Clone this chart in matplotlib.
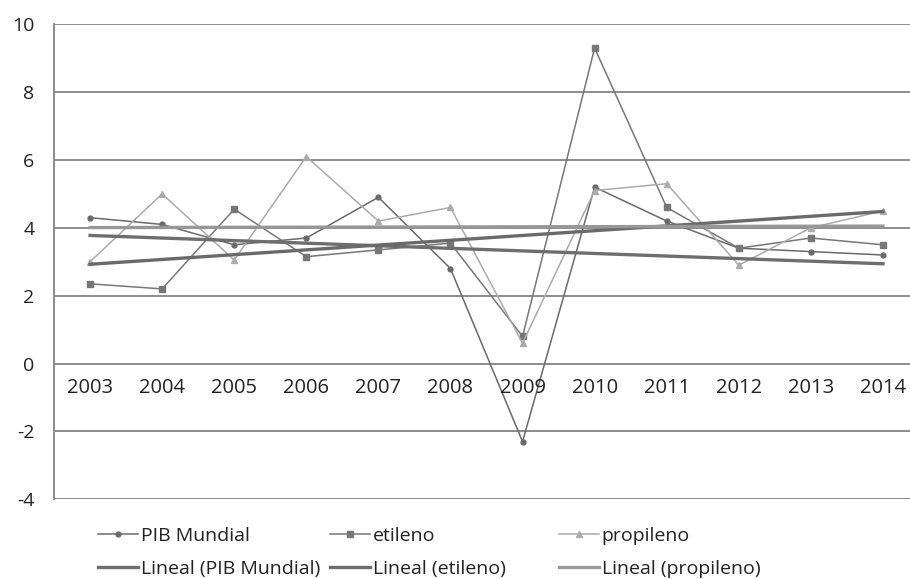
import numpy as np
import matplotlib.pyplot as plt

plt.rcParams['font.family'] = ['Open Sans', 'DejaVu Sans']
plt.rcParams['axes.unicode_minus'] = False

years = [2003, 2004, 2005, 2006, 2007, 2008, 2009, 2010, 2011, 2012, 2013, 2014]
pib_mundial = [4.3, 4.1, 3.5, 3.7, 4.9, 2.8, -2.3, 5.2, 4.2, 3.4, 3.3, 3.2]
etileno = [2.35, 2.2, 4.55, 3.15, 3.35, 3.55, 0.8, 9.3, 4.6, 3.4, 3.7, 3.5]
propileno = [3.0, 5.0, 3.05, 6.1, 4.2, 4.6, 0.6, 5.1, 5.3, 2.9, 4.0, 4.5]

x = np.arange(len(years))

fig = plt.figure(figsize=(9.1, 5.79), dpi=100)
ax = fig.add_axes([54 / 910, 0.1377, 865 / 910, 0.8204])

grid_c = '#8c8c8c'
ax.set_ylim(-4, 10)
ax.set_xlim(-0.5, 11.5)
ax.set_yticks(np.arange(-4, 11, 2))
ax.set_xticks([])
ax.yaxis.grid(True, color=grid_c, linewidth=1.4)
ax.set_axisbelow(True)
for side in ['top', 'right', 'bottom']:
    ax.spines[side].set_visible(False)
ax.spines['left'].set_color(grid_c)
ax.spines['left'].set_linewidth(1.4)
ax.tick_params(axis='y', length=0, pad=14, labelsize=14, labelcolor='#222222')

# series with markers
l1, = ax.plot(x, pib_mundial, color='#6a6a6a', lw=1.1, marker='o', ms=3.5, label='PIB Mundial')
l2, = ax.plot(x, etileno, color='#777777', lw=1.1, marker='s', ms=4.5, label='etileno')
l3, = ax.plot(x, propileno, color='#ababab', lw=1.1, marker='^', ms=4.5, label='propileno')

# linear trends
def trend(vals):
    k, b = np.polyfit(x, vals, 1)
    return k * x + b

t1, = ax.plot(x, trend(pib_mundial), color='#6e6e6e', lw=2.4, label='Lineal (PIB Mundial)')
t2, = ax.plot(x, trend(etileno), color='#6a6a6a', lw=2.4, label='Lineal (etileno)')
t3, = ax.plot(x, trend(propileno), color='#979797', lw=2.4, label='Lineal (propileno)')

# category labels sit just under the zero line
for i, yr in zip(x, years):
    ax.text(i, -0.72, str(yr), ha='center', va='center', fontsize=14.5, color='#222222')

# legend: three columns of two rows
cols = [(98, [l1, t1]), (330, [l2, t2]), (559, [l3, t3])]
for left, hs in cols:
    lg = fig.legend(handles=hs, loc='upper left', bbox_to_anchor=(left / 910, 1 - 527 / 579),
                    frameon=False, fontsize=14, handlelength=2.05, handletextpad=0.15,
                    borderpad=0, borderaxespad=0, labelspacing=0.76, numpoints=1)
    for t in lg.get_texts():
        t.set_color('#222222')

fig.savefig('out.png', dpi=100)
